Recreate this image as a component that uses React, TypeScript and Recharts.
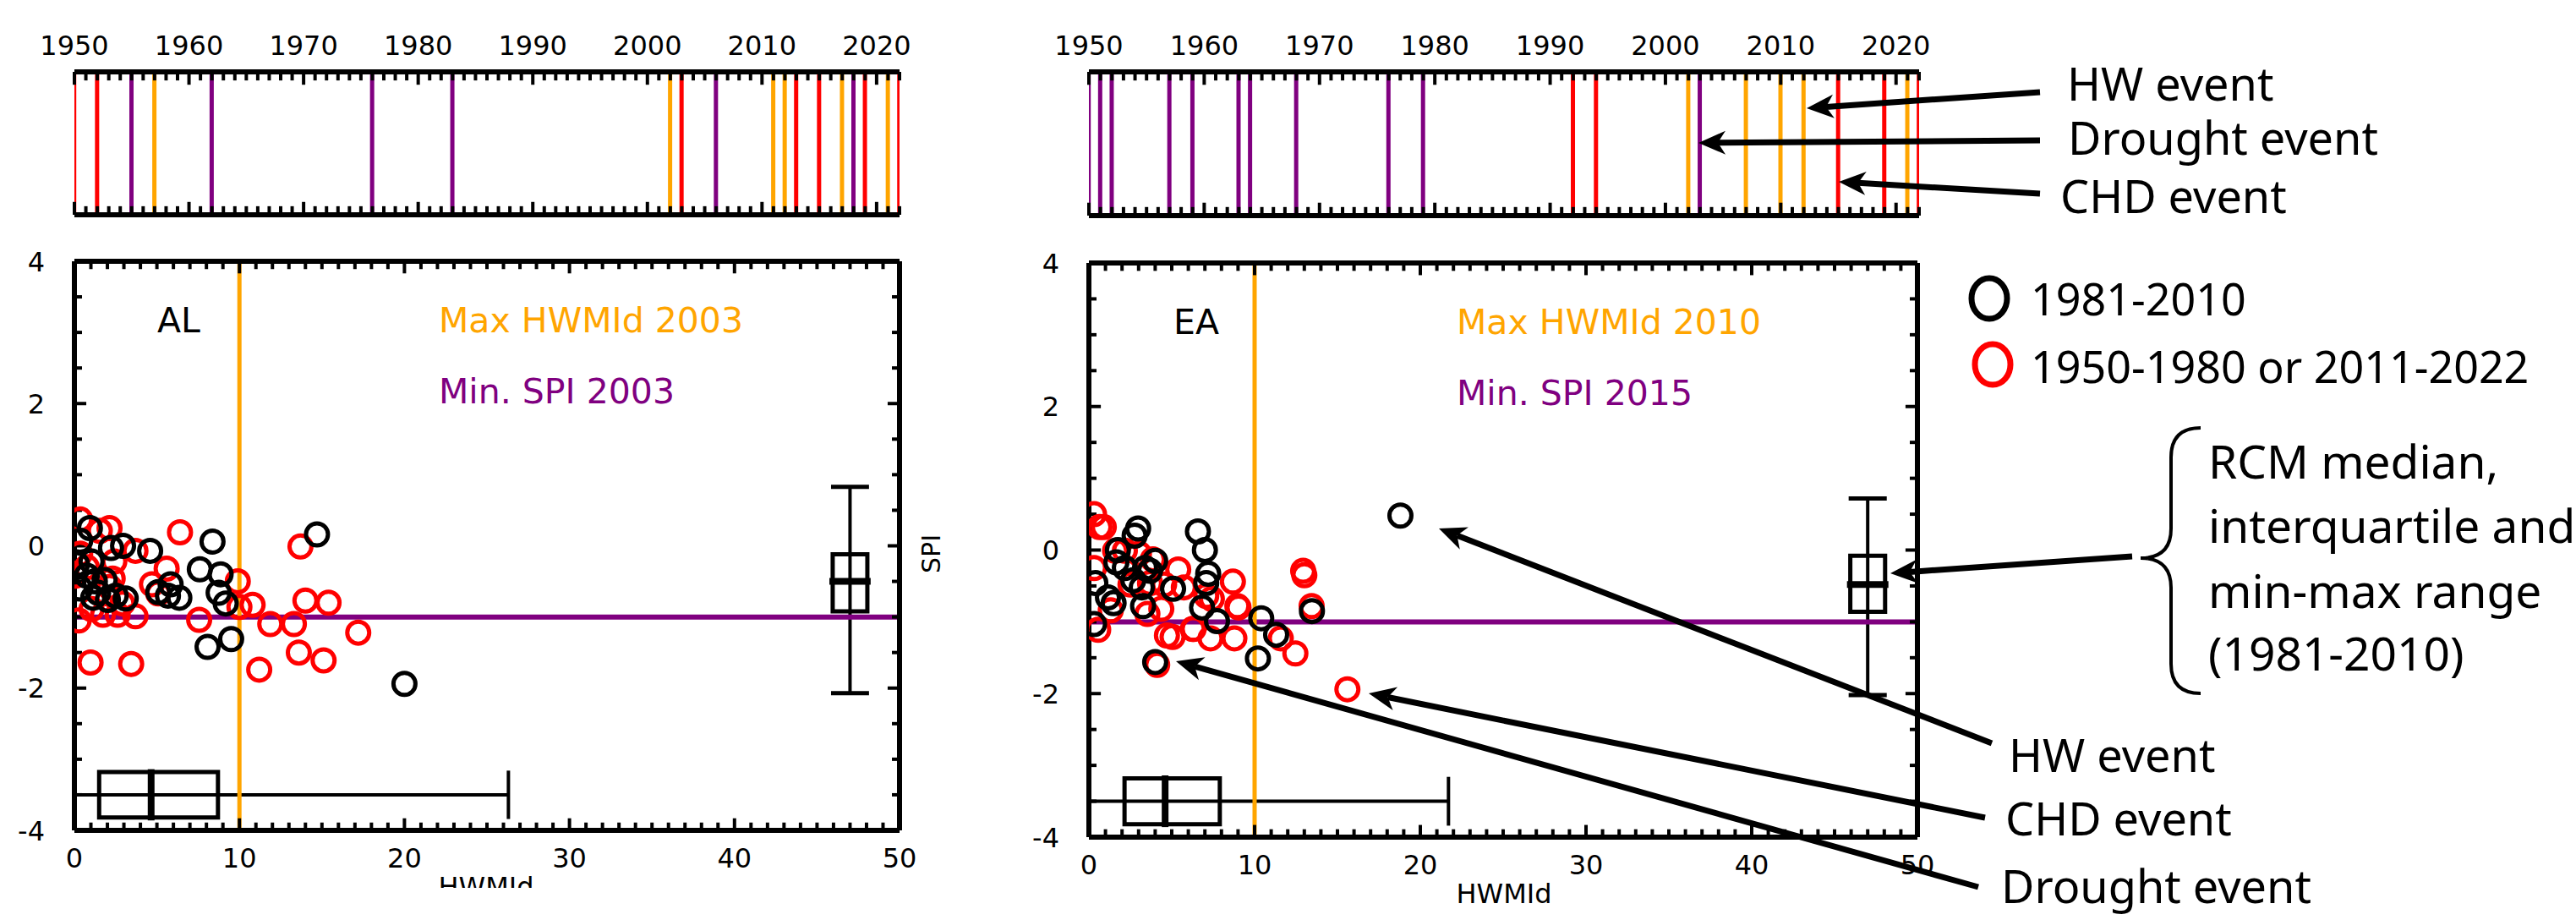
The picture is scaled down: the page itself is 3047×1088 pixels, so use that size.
import React from 'react';
import { ComposedChart, Bar, Scatter, XAxis, YAxis, ReferenceLine, ReferenceArea } from 'recharts';

const AXIS_FONT = '"DejaVu Sans", Verdana, sans-serif';
const NOTE_FONT = '"Noto Sans", "Open Sans", sans-serif';
const RED = '#ff0000';
const PURPLE = '#800080';
const ORANGE = '#ffa500';

// event years shown in the two timelines
const alHwYears = [1957, 2002, 2011, 2012, 2017, 2021];
const alDroughtYears = [1955, 1962, 1976, 1983, 2006, 2018];
const alChdYears = [1950, 1952, 2003, 2013, 2015, 2019, 2022];

const eaHwYears = [2002, 2007, 2010, 2012, 2021];
const eaDroughtYears = [1950, 1951, 1952, 1957, 1959, 1963, 1964, 1968, 1976, 1979, 2003];
const eaChdYears = [1992, 1994, 2015, 2019, 2022];

const decadeLabels = [1950, 1960, 1970, 1980, 1990, 2000, 2010, 2020];
const yearTicks = Array.from({ length: 73 }, (_, i) => 1950 + i);

// scatter: [HWMId, SPI]
const alRecent: [number, number][] = [
  [0.94, 0.25], [2.22, -0.03], [2.95, 0.0], [4.59, -0.07], [8.37, 0.06], [7.6, -0.33],
  [8.86, -0.4], [8.74, -0.66], [9.17, -0.81], [5.08, -0.65], [5.83, -0.54], [6.36, -0.73],
  [5.67, -0.7], [9.5, -1.31], [8.07, -1.42], [14.7, 0.16], [20.0, -1.94], [1.04, -0.22],
  [1.24, -0.5], [1.83, -0.48], [1.14, -0.73], [2.03, -0.76], [3.11, -0.74], [0.35, 0.07],
  [0.35, -0.6], [0.75, -0.42], [1.44, -0.66], [2.5, -0.7], [0.16, -0.26],
];
const alOther: [number, number][] = [
  [6.4, 0.19], [13.7, -0.01], [5.59, -0.32], [9.9, -0.5], [10.8, -0.83], [14.0, -0.77],
  [15.4, -0.8], [7.56, -1.04], [11.87, -1.1], [13.3, -1.1], [17.2, -1.22], [13.6, -1.5],
  [15.1, -1.61], [11.2, -1.74], [0.98, -1.64], [3.44, -1.66], [0.26, -1.05], [3.7, -0.99],
  [2.13, 0.25], [3.7, -0.07], [2.42, -0.22], [0.35, 0.37], [1.73, -0.97], [2.62, -0.97],
  [10.0, -0.86], [2.32, -0.46], [5.08, -0.67], [0.35, -0.11], [1.54, 0.21], [0.75, -0.3],
  [2.91, -0.81], [1.04, -0.89], [0.05, -0.42], [2.13, -0.58], [4.7, -0.54],
];
const eaRecent: [number, number][] = [
  [18.8, 0.48], [2.97, 0.3], [2.76, 0.2], [6.58, 0.26], [7.0, 0.0], [1.75, 0.0],
  [1.66, -0.17], [4.0, -0.15], [3.39, -0.25], [2.68, -0.42], [7.2, -0.33], [7.08, -0.46],
  [5.08, -0.54], [3.19, -0.52], [1.49, -0.74], [1.15, -0.66], [0.39, -0.46], [6.83, -0.8],
  [3.27, -0.78], [7.73, -0.99], [10.4, -0.95], [11.3, -1.18], [13.46, -0.85], [10.2, -1.51],
  [4.0, -1.56], [0.31, -1.03], [2.17, -0.25], [3.69, -0.29],
];
const eaOther: [number, number][] = [
  [12.93, -0.29], [8.69, -0.44], [9.03, -0.8], [13.44, -0.78], [8.78, -1.23], [7.34, -1.23],
  [6.32, -1.1], [4.71, -1.19], [5.05, -1.21], [11.58, -1.23], [12.46, -1.44], [15.6, -1.94],
  [4.12, -1.6], [0.56, -1.11], [0.64, 0.32], [0.31, 0.5], [5.39, -0.27], [4.37, -0.82],
  [3.53, -0.89], [7.08, -0.64], [3.86, -0.13], [2.51, -0.48], [2.17, -0.01], [5.73, -0.52],
  [7.42, -0.68], [1.32, -0.84], [0.31, -0.25], [0.9, 0.32], [3.69, -0.46], [3.02, -0.05],
  [1.58, -0.01], [4.54, -0.48], [13.0, -0.35], [8.96, -0.78], [6.27, -1.1],
];

// RCM 1981-2010: [min, q1, median, q3, max]
const alHwmidBox = [0, 1.5, 4.65, 8.7, 26.3];
const alSpiBox = [-2.07, -0.92, -0.5, -0.12, 0.83];
const eaHwmidBox = [0, 2.15, 4.6, 7.9, 21.7];
const eaSpiBox = [-2.02, -0.86, -0.48, -0.08, 0.72];

const hwmidTicks = Array.from({ length: 51 }, (_, i) => i);
const spiTicks = Array.from({ length: 17 }, (_, i) => -4 + i * 0.5);
const hwmidLabels = [0, 10, 20, 30, 40, 50];
const spiLabels = [-4, -2, 0, 2, 4];

const toPts = (arr: [number, number][]) => arr.map(([x, y]) => ({ x, y }));
const frame = { stroke: '#000', strokeWidth: 6 };

// text-only tick renderers (the inward tick marks are drawn as segments)
const yearLabel = (props: any) => {
  const { x, y, payload } = props;
  if (!decadeLabels.includes(payload.value)) return <g />;
  return (
    <text x={x} y={y - 20} textAnchor="middle" fontSize={32} fontFamily={AXIS_FONT} fill="#000">
      {payload.value}
    </text>
  );
};
const hwLabel = (props: any) => {
  const { x, y, payload } = props;
  if (!hwmidLabels.includes(payload.value)) return <g />;
  return (
    <text x={x} y={y + 44} textAnchor="middle" fontSize={32} fontFamily={AXIS_FONT} fill="#000">
      {payload.value}
    </text>
  );
};
const spiLabel = (props: any) => {
  const { x, y, payload } = props;
  if (!spiLabels.includes(payload.value)) return <g />;
  return (
    <text x={x - 35} y={y} dy="0.36em" textAnchor="end" fontSize={32} fontFamily={AXIS_FONT} fill="#000">
      {payload.value}
    </text>
  );
};

function Timeline({ left, width, margin, hw, drought, chd }: any) {
  // one row per event, a full-height bar in the colour of its kind
  const rows = [
    ...drought.map((year: number) => ({ year, drought: 1 })),
    ...hw.map((year: number) => ({ year, hw: 1 })),
    ...chd.map((year: number) => ({ year, chd: 1 })),
  ].sort((a, b) => a.year - b.year);
  const ax = { xAxisId: 'b', yAxisId: 'y' };
  return (
    <div style={{ position: 'absolute', left, top: 0 }}>
      <ComposedChart width={width} height={280} margin={margin} data={rows}>
        <YAxis yAxisId="y" type="number" domain={[0, 1]} hide />
        <Bar {...ax} dataKey="drought" stackId="ev" fill={PURPLE} barSize={5} isAnimationActive={false} />
        <Bar {...ax} dataKey="hw" stackId="ev" fill={ORANGE} barSize={5} isAnimationActive={false} />
        <Bar {...ax} dataKey="chd" stackId="ev" fill={RED} barSize={5} isAnimationActive={false} />
        {yearTicks.map((yr) => {
          const len = decadeLabels.includes(yr) ? 0.09 : 0.06;
          return (
            <React.Fragment key={yr}>
              <ReferenceLine {...ax} segment={[{ x: yr, y: 1 }, { x: yr, y: 1 - len }]} stroke="#000" strokeWidth={4} />
              <ReferenceLine {...ax} segment={[{ x: yr, y: 0 }, { x: yr, y: len }]} stroke="#000" strokeWidth={4} />
            </React.Fragment>
          );
        })}
        <XAxis xAxisId="b" type="number" dataKey="year" domain={[1950, 2022]} ticks={yearTicks} interval={0}
          tickSize={0} tickMargin={0} tickLine={false} height={1} tick={false} allowDataOverflow axisLine={frame} />
        <XAxis xAxisId="t" orientation="top" type="number" dataKey="year" domain={[1950, 2022]} ticks={yearTicks}
          interval={0} tickSize={0} tickMargin={0} tickLine={false} height={1} tick={yearLabel} axisLine={frame} />
      </ComposedChart>
    </div>
  );
}

const ring = (color: string) => (p: any) => (
  <circle cx={p.cx} cy={p.cy} r={13} fill="none" stroke={color} strokeWidth={5} />
);

function Panel({ left, margin, recent, other, hBox, vBox }: any) {
  const ax = { xAxisId: 'b', yAxisId: 'l' };
  const hy = -3.5; // vertical placement of the HWMId box
  const vx = 47; // horizontal placement of the SPI box
  const [hMin, hQ1, hMed, hQ3, hMax] = hBox;
  const [sMin, sQ1, sMed, sQ3, sMax] = vBox;
  const tick = { stroke: '#000', strokeWidth: 4 };
  return (
    <div style={{ position: 'absolute', left, top: 280 }}>
      <ComposedChart width={1090} height={808} margin={margin}>
        <Scatter {...ax} data={toPts(other)} shape={ring(RED)} isAnimationActive={false} />
        <Scatter {...ax} data={toPts(recent)} shape={ring('#000')} isAnimationActive={false} />

        {/* HWMId box plot */}
        <ReferenceLine {...ax} segment={[{ x: hMin, y: hy }, { x: hMax, y: hy }]} stroke="#000" strokeWidth={4} />
        <ReferenceLine {...ax} segment={[{ x: hMax, y: hy - 0.34 }, { x: hMax, y: hy + 0.34 }]} stroke="#000" strokeWidth={4} />
        <ReferenceArea {...ax} x1={hQ1} x2={hQ3} y1={hy - 0.32} y2={hy + 0.32} fill="#fff" fillOpacity={1}
          stroke="#000" strokeWidth={5} />
        <ReferenceLine {...ax} segment={[{ x: hMed, y: hy - 0.36 }, { x: hMed, y: hy + 0.36 }]} stroke="#000" strokeWidth={8} />

        {/* SPI box plot */}
        <ReferenceLine {...ax} segment={[{ x: vx, y: sMin }, { x: vx, y: sMax }]} stroke="#000" strokeWidth={4} />
        <ReferenceLine {...ax} segment={[{ x: vx - 1.15, y: sMin }, { x: vx + 1.15, y: sMin }]} stroke="#000" strokeWidth={5} />
        <ReferenceLine {...ax} segment={[{ x: vx - 1.15, y: sMax }, { x: vx + 1.15, y: sMax }]} stroke="#000" strokeWidth={5} />
        <ReferenceArea {...ax} x1={vx - 1.05} x2={vx + 1.05} y1={sQ1} y2={sQ3} fill="#fff" fillOpacity={1}
          stroke="#000" strokeWidth={5} />
        <ReferenceLine {...ax} segment={[{ x: vx - 1.25, y: sMed }, { x: vx + 1.25, y: sMed }]} stroke="#000" strokeWidth={8} />

        <ReferenceLine {...ax} y={-1} stroke={PURPLE} strokeWidth={6} />
        <ReferenceLine {...ax} x={10} stroke={ORANGE} strokeWidth={5} />

        {/* inward tick marks on all four sides */}
        {hwmidTicks.map((v) => {
          const len = hwmidLabels.includes(v) ? 0.17 : 0.11;
          return (
            <React.Fragment key={'x' + v}>
              <ReferenceLine {...ax} segment={[{ x: v, y: -4 }, { x: v, y: -4 + len }]} {...tick} />
              <ReferenceLine {...ax} segment={[{ x: v, y: 4 }, { x: v, y: 4 - len }]} {...tick} />
            </React.Fragment>
          );
        })}
        {spiTicks.map((v) => {
          const len = spiLabels.includes(v) ? 0.72 : 0.46;
          return (
            <React.Fragment key={'y' + v}>
              <ReferenceLine {...ax} segment={[{ x: 0, y: v }, { x: len, y: v }]} {...tick} />
              <ReferenceLine {...ax} segment={[{ x: 50, y: v }, { x: 50 - len, y: v }]} {...tick} />
            </React.Fragment>
          );
        })}

        <XAxis xAxisId="b" type="number" dataKey="x" domain={[0, 50]} ticks={hwmidTicks} interval={0}
          tickSize={0} tickMargin={0} tickLine={false} height={1} tick={hwLabel} allowDataOverflow axisLine={frame} />
        <XAxis xAxisId="t" orientation="top" type="number" domain={[0, 50]} ticks={hwmidTicks} interval={0}
          tickSize={0} tickMargin={0} tickLine={false} height={1} tick={false} axisLine={frame} />
        <YAxis yAxisId="l" type="number" dataKey="y" domain={[-4, 4]} ticks={spiTicks} interval={0}
          tickSize={0} tickMargin={0} tickLine={false} width={1} tick={spiLabel} allowDataOverflow axisLine={frame} />
        <YAxis yAxisId="r" orientation="right" type="number" domain={[-4, 4]} ticks={spiTicks} interval={0}
          tickSize={0} tickMargin={0} tickLine={false} width={1} tick={false} axisLine={frame} />
      </ComposedChart>
    </div>
  );
}

function Arrow({ from, to }: { from: number[]; to: number[] }) {
  const [x1, y1] = from;
  const [x2, y2] = to;
  const len = Math.hypot(x2 - x1, y2 - y1);
  const ux = (x2 - x1) / len;
  const uy = (y2 - y1) / len;
  const hl = 32;
  const hw = 14;
  const bx = x2 - ux * hl;
  const by = y2 - uy * hl;
  const nx = x2 - ux * (hl - 9);
  const ny = y2 - uy * (hl - 9);
  const pts = [
    [x2, y2],
    [bx - uy * hw, by + ux * hw],
    [nx, ny],
    [bx + uy * hw, by - ux * hw],
  ];
  return (
    <g>
      <line x1={x1} y1={y1} x2={nx} y2={ny} stroke="#000" strokeWidth={7} />
      <polygon points={pts.map((p) => p.join(',')).join(' ')} fill="#000" />
    </g>
  );
}

function Overlay() {
  const note = { fontFamily: NOTE_FONT, fontSize: 54, fill: '#000' };
  const ax = { fontFamily: AXIS_FONT, fontSize: 41 };
  return (
    <svg width={3047} height={1088} style={{ position: 'absolute', left: 0, top: 0, pointerEvents: 'none' }}>
      <text x={186} y={393} {...ax} fill="#000">AL</text>
      <text x={519} y={393} {...ax} fill={ORANGE}>Max HWMId 2003</text>
      <text x={519} y={477} {...ax} fill={PURPLE}>Min. SPI 2003</text>
      <text x={1388} y={395} {...ax} fill="#000">EA</text>
      <text x={1723} y={395} {...ax} fill={ORANGE}>Max HWMId 2010</text>
      <text x={1723} y={479} {...ax} fill={PURPLE}>Min. SPI 2015</text>

      <text transform="translate(1112,655) rotate(-90)" textAnchor="middle" fontFamily={AXIS_FONT} fontSize={30}>SPI</text>
      <text x={575} y={1060} textAnchor="middle" fontFamily={AXIS_FONT} fontSize={32}>HWMId</text>
      <rect x={500} y={1050} width={160} height={38} fill="#fff" />
      <text x={1779} y={1068} textAnchor="middle" fontFamily={AXIS_FONT} fontSize={32}>HWMId</text>

      <text x={2445} y={119} {...note}>HW event</text>
      <text x={2446} y={183} {...note}>Drought event</text>
      <text x={2437} y={252} {...note}>CHD event</text>
      <Arrow from={[2413, 109]} to={[2137, 128]} />
      <Arrow from={[2413, 166]} to={[2009, 169]} />
      <Arrow from={[2413, 229]} to={[2175, 215]} />

      <ellipse cx={2353} cy={353} rx={21} ry={24} fill="none" stroke="#000" strokeWidth={7} />
      <text x={2402} y={373} {...note} fontSize={52}>1981-2010</text>
      <ellipse cx={2357} cy={431} rx={21} ry={24} fill="none" stroke={RED} strokeWidth={7} />
      <text x={2402} y={453} {...note} fontSize={52}>1950-1980 or 2011-2022</text>

      <path d="M2603 506 Q2568 506 2568 541 L2568 625 Q2568 660 2532 660 Q2568 660 2568 695 L2568 785 Q2568 820 2603 820"
        fill="none" stroke="#000" strokeWidth={4} />
      <text x={2612} y={566} {...note} fontSize={55}>RCM median,</text>
      <text x={2612} y={642} {...note} fontSize={55}>interquartile and</text>
      <text x={2612} y={719} {...note} fontSize={55}>min-max range</text>
      <text x={2612} y={793} {...note} fontSize={55}>(1981-2010)</text>
      <Arrow from={[2522, 658]} to={[2236, 678]} />

      <text x={2376} y={913} {...note}>HW event</text>
      <text x={2372} y={988} {...note}>CHD event</text>
      <text x={2367} y={1068} {...note}>Drought event</text>
      <Arrow from={[2356, 879]} to={[1702, 625]} />
      <Arrow from={[2348, 967]} to={[1619, 820]} />
      <Arrow from={[2340, 1049]} to={[1391, 782]} />
    </svg>
  );
}

export default function App() {
  return (
    <div style={{ position: 'relative', width: 3047, height: 1088, background: '#fff', overflow: 'hidden' }}>
      <style>{'body{margin:0}'}</style>
      <Timeline left={0} width={1100} margin={{ top: 84, right: 36, bottom: 25, left: 88 }}
        hw={alHwYears} drought={alDroughtYears} chd={alChdYears} />
      <Timeline left={1200} width={1100} margin={{ top: 84, right: 30, bottom: 24, left: 88 }}
        hw={eaHwYears} drought={eaDroughtYears} chd={eaChdYears} />
      <Panel left={0} margin={{ top: 28, right: 25, bottom: 105, left: 87 }}
        recent={alRecent} other={alOther} hBox={alHwmidBox} vBox={alSpiBox} />
      <Panel left={1200} margin={{ top: 30, right: 21, bottom: 97, left: 87 }}
        recent={eaRecent} other={eaOther} hBox={eaHwmidBox} vBox={eaSpiBox} />
      <Overlay />
    </div>
  );
}
